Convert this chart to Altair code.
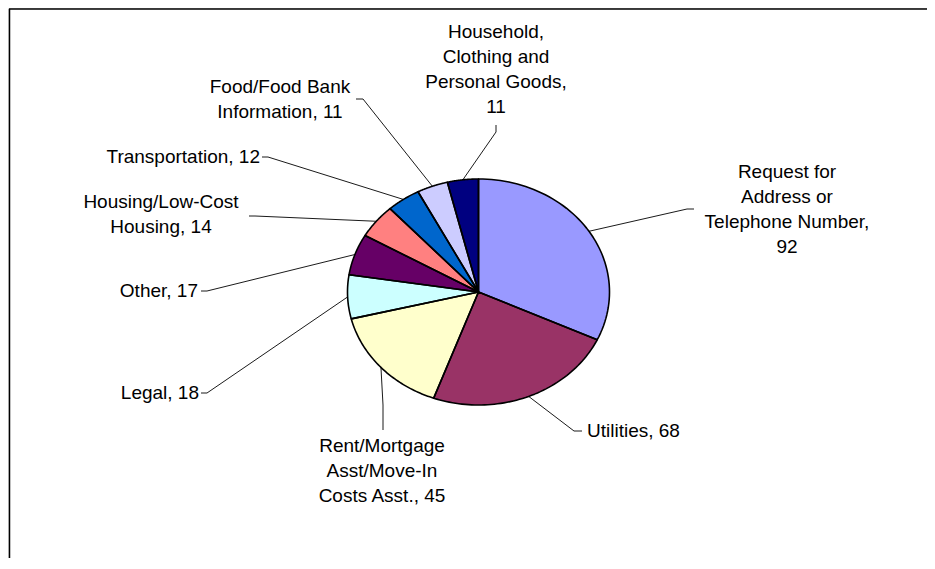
import altair as alt
import pandas as pd

# ---- data ----
categories = [
    "Request for Address or Telephone Number",
    "Utilities",
    "Rent/Mortgage Asst/Move-In Costs Asst.",
    "Legal",
    "Other",
    "Housing/Low-Cost Housing",
    "Transportation",
    "Food/Food Bank Information",
    "Household, Clothing and Personal Goods",
]
values = [92, 68, 45, 18, 17, 14, 12, 11, 11]
label_names = [
    "Request for\nAddress or\nTelephone Number,\n",
    "Utilities, ",
    "Rent/Mortgage\nAsst/Move-In\nCosts Asst., ",
    "Legal, ",
    "Other, ",
    "Housing/Low-Cost\nHousing, ",
    "Transportation, ",
    "Food/Food Bank\nInformation, ",
    "Household,\nClothing and\nPersonal Goods,\n",
]
colors = ["#9999FF", "#993366", "#FFFFCC", "#CCFFFF", "#660066",
          "#FF8080", "#0066CC", "#CCCCFF", "#000080"]

# ---- layout (pixel positions of labels / leader ends, pie geometry) ----
W, H = 919, 550
CX, CY, RX, RY = 478.5, 292.0, 131.0, 113.0
label_x = [787, 587, 382, 199, 198, 161, 260, 280, 496]
label_y = [172, 431, 446, 393, 291, 202, 157, 87, 32]   # y of first text line
label_align = ["center", "left", "center", "right", "right", "center", "right", "center", "center"]
elbow_x = [687, 574, 383, 207, 207, 255, 268, 363, 496]
elbow_y = [209, 431, 405, 393, 291, 216, 157, 99, 132]
end_x = [694, 582, 383, 201, 201, 249, 262, 356, 496]
end_y = [209, 431, 430, 393, 291, 216, 157, 99, 125]

xs = alt.Scale(domain=[8, 8 + W], range=[0, W])
ys = alt.Scale(domain=[8, 8 + H], range=[0, H])
FONT = "Liberation Sans"

base = pd.DataFrame({"category": categories, "value": values, "order": list(range(len(values)))})

NSEG = 60
pie_base = alt.Chart(base).transform_window(
    cum="sum(value)", sort=[alt.SortField("order")], frame=[None, 0]
).transform_joinaggregate(
    total="sum(value)"
).transform_calculate(
    a0="2*PI*(datum.cum-datum.value)/datum.total",
    a1="2*PI*datum.cum/datum.total",
    k=f"sequence(0, {NSEG + 3})",
).transform_flatten(
    ["k"]
).transform_calculate(
    theta=f"datum.a0 + (datum.a1-datum.a0)*(datum.k-1)/{NSEG}",
    edge=f"(datum.k>=1 && datum.k<={NSEG + 1}) ? 1 : 0",
).transform_calculate(
    px=f"{CX} + datum.edge*{RX}*sin(datum.theta)",
    py=f"{CY} - datum.edge*{RY}*cos(datum.theta)",
)

enc = dict(
    x=alt.X("px:Q", scale=xs, axis=None),
    y=alt.Y("py:Q", scale=ys, axis=None),
    order=alt.Order("k:Q"),
)

pie_fill = pie_base.mark_line(filled=True, strokeWidth=0, opacity=1).encode(
    color=alt.Color("category:N", scale=alt.Scale(domain=categories, range=colors), legend=None),
    **enc,
)
pie_stroke = pie_base.mark_line(color="black", strokeWidth=1.6, strokeJoin="round").encode(
    detail="category:N", **enc
)

# leader lines
lead_df = base.assign(ex=elbow_x, ey=elbow_y, nx=end_x, ny=end_y)
leaders = alt.Chart(lead_df).transform_window(
    cum="sum(value)", sort=[alt.SortField("order")], frame=[None, 0]
).transform_joinaggregate(
    total="sum(value)"
).transform_calculate(
    mid="2*PI*(datum.cum-datum.value/2)/datum.total",
    k="sequence(0, 3)",
).transform_flatten(
    ["k"]
).transform_calculate(
    px=f"datum.k==0 ? {CX} + {RX}*sin(datum.mid) : (datum.k==1 ? datum.ex : datum.nx)",
    py=f"datum.k==0 ? {CY} - {RY}*cos(datum.mid) : (datum.k==1 ? datum.ey : datum.ny)",
).mark_line(color="black", strokeWidth=0.9).encode(
    detail="category:N", **enc
)

# labels
lab_df = pd.DataFrame({
    "label": [n + str(v) for n, v in zip(label_names, values)],
    "tx": label_x, "ty": label_y, "al": label_align,
})
text_layers = []
for al in ["left", "center", "right"]:
    text_layers.append(
        alt.Chart(lab_df).transform_filter(f"datum.al == '{al}'").mark_text(
            align=al, baseline="middle", font=FONT, fontSize=19, lineHeight=25,
            lineBreak="\n", color="black",
        ).encode(
            x=alt.X("tx:Q", scale=xs, axis=None),
            y=alt.Y("ty:Q", scale=ys, axis=None),
            text="label:N",
        )
    )

# chart frame (top and left border lines; right/bottom are cut off in the original)
frame_top = alt.Chart(pd.DataFrame({"a": [0]})).mark_rule(color="black", strokeWidth=1.5).encode(
    x=alt.value(1), x2=alt.value(W), y=alt.value(1)
)
frame_left = alt.Chart(pd.DataFrame({"a": [0]})).mark_rule(color="black", strokeWidth=1.5).encode(
    x=alt.value(1.5), y=alt.value(1), y2=alt.value(H)
)

chart = alt.layer(
    frame_top, frame_left, leaders, pie_fill, pie_stroke, *text_layers
).properties(
    width=W, height=H, padding=0,
    autosize=alt.AutoSizeParams(type="none"),
).configure_view(stroke=None).configure(background="white")

chart.save("out.html", embed_options={"renderer": "svg", "actions": False})
